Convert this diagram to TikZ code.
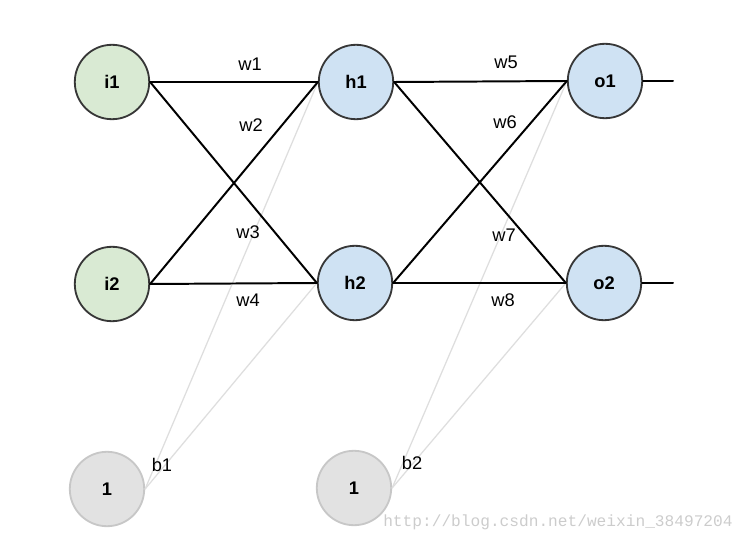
\documentclass[tikz,border=0pt]{standalone}
\usepackage{fontspec}
\setmainfont{Liberation Sans}
\setmonofont{Liberation Mono}
\definecolor{ingreen}{RGB}{217,234,211}
\definecolor{hidblue}{RGB}{207,226,243}
\definecolor{biasgray}{RGB}{226,226,226}
\definecolor{rimgray}{RGB}{55,55,55}
\definecolor{wirelight}{RGB}{222,222,222}
\tikzset{
    neuron/.style = {circle, draw=rimgray, line width=1.3pt, minimum size=1.86cm, inner sep=0pt,
        font=\bfseries\fontsize{13}{13}\selectfont},
    wlabel/.style = {font=\fontsize{13}{13}\selectfont, inner sep=1pt},
    wire/.style = {line width=1.4pt, black},
    biaswire/.style = {line width=0.9pt, wirelight}
}

\begin{document}
\begin{tikzpicture}[x=0.025cm, y=-0.025cm, line cap=round, line join=round]
\useasboundingbox (0,0) rectangle (749,543);
% neurons
\node[neuron, fill=ingreen] (i1) at (112,82) {i1};
\node[neuron, fill=ingreen] (i2) at (112,284) {i2};
\node[neuron, fill=hidblue] (h1) at (356,82) {h1};
\node[neuron, fill=hidblue] (h2) at (355,283) {h2};
\node[neuron, fill=hidblue] (o1) at (605,81) {o1};
\node[neuron, fill=hidblue] (o2) at (604,283) {o2};
\node[neuron, fill=biasgray, draw=black!22, font=\fontsize{13}{13}\selectfont\bfseries] (b1) at (107,489) {1};
\node[neuron, fill=biasgray, draw=black!22, font=\fontsize{13}{13}\selectfont\bfseries] (b2) at (354,488) {1};
\coordinate (out1) at (673,81);
\coordinate (out2) at (673,283);

% bias wires
\draw[biaswire] (b1.east) -- (h1.west);
\draw[biaswire] (b1.east) -- (h2.west);
\draw[biaswire] (b2.east) -- (o1.west);
\draw[biaswire] (b2.east) -- (o2.west);

% weights
\draw[wire] (i1.east) -- (h1.west);
\draw[wire] (i1.east) -- (h2.west);
\draw[wire] (i2.east) -- (h1.west);
\draw[wire] (i2.east) -- (h2.west);
\draw[wire] (h1.east) -- (o1.west);
\draw[wire] (h1.east) -- (o2.west);
\draw[wire] (h2.east) -- (o1.west);
\draw[wire] (h2.east) -- (o2.west);
\draw[wire] (o1.east) -- (out1);
\draw[wire] (o2.east) -- (out2);

% labels
\node[wlabel] (lw1) at (250,64) {w1};
\node[wlabel] (lw2) at (251,125) {w2};
\node[wlabel] (lw3) at (248,232) {w3};
\node[wlabel] (lw4) at (248,300) {w4};
\node[wlabel] (lw5) at (506,62) {w5};
\node[wlabel] (lw6) at (505,122) {w6};
\node[wlabel] (lw7) at (504,235) {w7};
\node[wlabel] (lw8) at (503,300) {w8};
\node[wlabel] (lb1) at (162,465) {b1};
\node[wlabel] (lb2) at (412,463) {b2};

% watermark
\node[anchor=west, inner sep=0pt, text=black!20, font=\ttfamily\fontsize{11.5}{11.5}\selectfont] (mark) at (383,522) {http://blog.csdn.net/weixin\_38497204};
\end{tikzpicture}
\end{document}
